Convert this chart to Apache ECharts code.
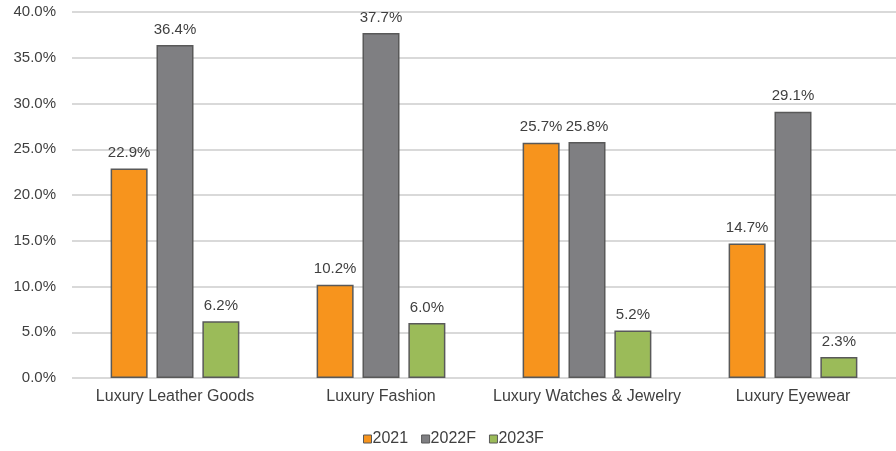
<!DOCTYPE html>
<html><head><meta charset="utf-8">
<script src="https://cdn.jsdelivr.net/npm/echarts@6/dist/echarts.min.js"></script>
<style>html,body{margin:0;padding:0;background:#fff}#c{width:896px;height:451px}</style>
</head><body><div id="c"></div>
<script>
const categories = ['Luxury Leather Goods', 'Luxury Fashion', 'Luxury Watches & Jewelry', 'Luxury Eyewear'];
const seriesNames = ['2021', '2022F', '2023F'];
const values2021 = [22.9, 10.2, 25.7, 14.7];
const values2022F = [36.4, 37.7, 25.8, 29.1];
const values2023F = [6.2, 6.0, 5.2, 2.3];
const colors = ['#F7941D', '#7F7F82', '#9BBB59'];

const font = 'Liberation Sans, Arial, sans-serif';
const chart = echarts.init(document.getElementById('c'));
const data = [values2021, values2022F, values2023F];
chart.setOption({
  animation: false,
  textStyle: { fontFamily: font },
  grid: { left: 72, right: 0, top: 12, bottom: 73 },
  legend: {
    top: 431, left: 363, padding: 0, itemWidth: 8, itemHeight: 8, itemGap: 13,
    icon: 'rect',
    itemStyle: { borderColor: '#595959', borderWidth: 1 },
    textStyle: { fontFamily: font, fontSize: 16, color: '#404040', padding: [0, 0, 0, -4] },
    data: seriesNames
  },
  xAxis: {
    type: 'category', data: categories,
    axisLine: { show: false }, axisTick: { show: false },
    axisLabel: { interval: 0, fontFamily: font, fontSize: 16, color: '#404040', margin: 11 }
  },
  yAxis: {
    type: 'value', min: 0, max: 40, interval: 5,
    axisLine: { show: false }, axisTick: { show: false },
    axisLabel: { fontFamily: font, fontSize: 15, color: '#404040', margin: 16, formatter: v => v.toFixed(1) + '%' },
    splitLine: { lineStyle: { color: '#D9D9D9', width: 2 } }
  },
  series: seriesNames.map((n, i) => ({
    name: n, type: 'bar', data: data[i],
    barWidth: 37, barGap: '24%', barCategoryGap: '38%',
    itemStyle: { color: colors[i], borderColor: '#595959', borderWidth: 1.5 },
    label: { show: true, position: 'top', distance: 8, fontFamily: font, fontSize: 15, color: '#404040', formatter: p => p.value.toFixed(1) + '%' }
  }))
});
</script></body></html>
